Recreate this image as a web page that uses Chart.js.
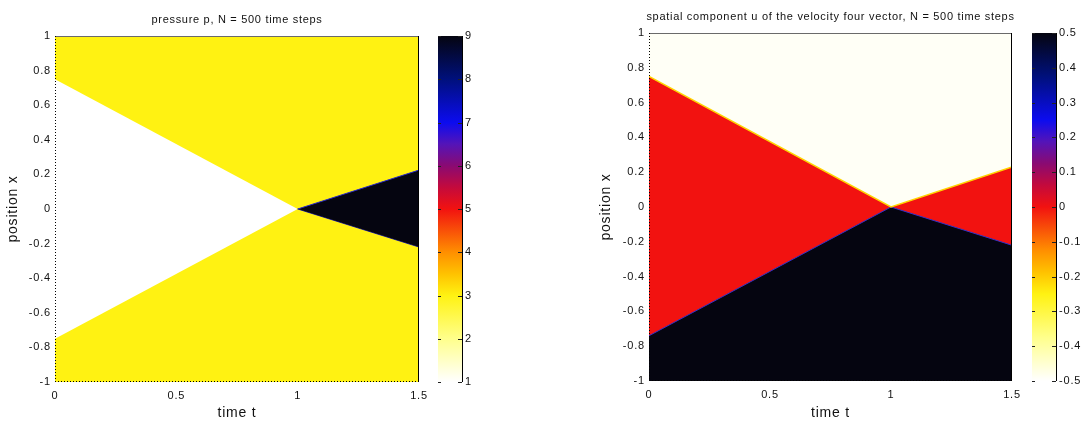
<!DOCTYPE html>
<html><head><meta charset="utf-8">
<script src="https://cdn.jsdelivr.net/npm/chart.js@4.4.1/dist/chart.umd.min.js"></script>
<style>
html,body{margin:0;padding:0;background:#fff;width:1083px;height:424px;overflow:hidden}
canvas{position:absolute;top:0}
</style></head><body>
<canvas id="pMap" width="430" height="424" style="left:0px"></canvas>
<canvas id="pBar" width="55" height="424" style="left:430px"></canvas>
<canvas id="uMap" width="440" height="424" style="left:590px"></canvas>
<canvas id="uBar" width="58" height="424" style="left:1025px"></canvas>
<script>
// ---------- tick labels ----------
const timeTicks = [0, 0.5, 1, 1.5];
const positionTicks = [-1, -0.8, -0.6, -0.4, -0.2, 0, 0.2, 0.4, 0.6, 0.8, 1];
const pressureTicks = [1, 2, 3, 4, 5, 6, 7, 8, 9];
const velocityTicks = [-0.5, -0.4, -0.3, -0.2, -0.1, 0, 0.1, 0.2, 0.3, 0.4, 0.5];

// ---------- domain ----------
const timeRange = [0, 1.5];
const positionRange = [-1, 1];

// ---------- pressure p : region values ----------
const pAmbient = 3;     // yellow outer state
const pRarefied = 1;    // white fan
const pShocked = 9;     // black shocked region
// region boundaries (time t, position x)
const fanTopT = [0, 1],     fanTopX = [0.75, 0];
const fanBottomT = [0, 1],  fanBottomX = [-0.75, 0];
const shockTopT = [1, 1.5], shockTopX = [0, 0.225];
const shockBottomT = [1, 1.5], shockBottomX = [0, -0.22];

// ---------- velocity u : region values ----------
const uUpper = -0.49;   // off-white region above upper front
const uMiddle = 0;      // red region
const uLower = 0.5;     // black region below lower front
const upperFrontT = [0, 1, 1.5], upperFrontX = [0.75, 0, 0.23];
const lowerFrontT = [0, 1, 1.5], lowerFrontX = [-0.74, 0, -0.22];

// ---------- colormap (normalised position -> colour) ----------
const cmapPos = [0, 0.125, 0.25, 0.3125, 0.375, 0.5, 0.5625, 0.625, 0.6875, 0.75, 0.875, 1];
const cmapCol = ['#ffffff', '#ffff8c', '#fff212', '#ffc200', '#ff8f00', '#f21210', '#c40a3c', '#8a0a72', '#5414b8', '#0c0cef', '#00107c', '#050510'];

const FONT = "'Liberation Sans', Arial, Helvetica, sans-serif";

function hexRgb(h){ return [1,3,5].map(i=>parseInt(h.substr(i,2),16)); }
function cmap(v, lo, hi){
  const s = Math.max(0, Math.min(1, (v-lo)/(hi-lo)));
  for (let i=0;i<cmapPos.length-1;i++){
    if (s <= cmapPos[i+1]) {
      const f = (s-cmapPos[i])/(cmapPos[i+1]-cmapPos[i]);
      const a = hexRgb(cmapCol[i]), b = hexRgb(cmapCol[i+1]);
      const c = a.map((x,k)=>Math.round(x+(b[k]-x)*f));
      return `rgb(${c[0]},${c[1]},${c[2]})`;
    }
  }
  return cmapCol[cmapCol.length-1];
}
function pts(ts, xs){ return ts.map((t,i)=>({x:t, y:xs[i]})); }
function fmt(v){ return (Math.round(v*10)/10).toString(); }
function noPad(s){ s.paddingLeft = 0; s.paddingRight = 0; s.paddingTop = 0; s.paddingBottom = 0; }

const spacing = {
  id:'spacing',
  beforeDraw(chart){ chart.ctx.letterSpacing = '0.8px'; }
};

const frame = {
  id:'frame',
  afterDatasetsDraw(chart){
    const {ctx, chartArea:{left,right,top,bottom}} = chart;
    ctx.save();
    ctx.lineWidth = 1;
    ctx.strokeStyle = '#6a6a6a';
    ctx.beginPath(); ctx.moveTo(left, top+0.5); ctx.lineTo(right, top+0.5); ctx.stroke();
    ctx.strokeStyle = '#000';
    ctx.beginPath(); ctx.moveTo(right-0.5, top); ctx.lineTo(right-0.5, bottom); ctx.stroke();
    ctx.setLineDash([1,2]);
    ctx.beginPath(); ctx.moveTo(left+0.5, top); ctx.lineTo(left+0.5, bottom); ctx.stroke();
    ctx.beginPath(); ctx.moveTo(left, bottom-0.5); ctx.lineTo(right, bottom-0.5); ctx.stroke();
    ctx.restore();
  }
};
const titlePlug = {
  id:'ttl',
  afterDraw(chart, args, opts){
    const {ctx, chartArea:{left,right}} = chart;
    ctx.save();
    ctx.font = '11px ' + FONT;
    ctx.letterSpacing = '0.7px';
    ctx.fillStyle = '#111';
    ctx.textAlign = 'center'; ctx.textBaseline = 'middle';
    ctx.fillText(opts.text, (left+right)/2, opts.y);
    ctx.restore();
  }
};

function fieldChart(id, g, datasets, title){
  return new Chart(document.getElementById(id), {
    type:'line',
    data:{datasets},
    plugins:[spacing, frame, titlePlug],
    options:{
      responsive:false, animation:false, events:[],
      layout:{padding:{top:g.top, right:g.padRight, left:0, bottom:0}},
      elements:{point:{radius:0}, line:{tension:0}},
      plugins:{legend:{display:false}, tooltip:{enabled:false}, ttl:{text:title, y:g.titleY}},
      scales:{
        x:{type:'linear', min:timeRange[0], max:timeRange[1],
           afterBuildTicks:s=>{ s.ticks = timeTicks.map(v=>({value:v})); },
           afterFit:s=>{ s.height = g.xH; noPad(s); },
           grid:{display:false, drawTicks:false, tickLength:0}, border:{display:false},
           ticks:{autoSkip:false, maxRotation:0, padding:7, color:'#111', font:{family:FONT, size:11}, callback:v=>fmt(v)},
           title:{display:true, text:'time t', color:'#111', font:{family:FONT, size:14}, padding:{top:0, bottom:2}}},
        y:{type:'linear', min:positionRange[0], max:positionRange[1],
           afterBuildTicks:s=>{ s.ticks = positionTicks.map(v=>({value:v})); },
           afterFit:s=>{ s.width = g.yW; noPad(s); },
           grid:{display:false, drawTicks:false, tickLength:0}, border:{display:false},
           ticks:{autoSkip:false, padding:4, color:'#111', font:{family:FONT, size:11}, callback:v=>fmt(v)},
           title:{display:true, text:'position x', color:'#111', font:{family:FONT, size:14}, padding:{top:g.yTitlePad, bottom:0}}}
      }
    }
  });
}

function colorBar(id, g, lo, hi, ticks){
  const cbTicks = {
    id:'cbTicks',
    afterDatasetsDraw(chart){
      const {ctx, chartArea:{left,right,top,bottom}} = chart;
      const ys = chart.scales.y;
      ctx.save();
      ctx.strokeStyle = '#222'; ctx.lineWidth = 1;
      ticks.forEach(v=>{
        const y = Math.round(ys.getPixelForValue(v)) + 0.5;
        ctx.beginPath(); ctx.moveTo(left, y); ctx.lineTo(left+3, y); ctx.stroke();
        ctx.beginPath(); ctx.moveTo(right-4, y); ctx.lineTo(right, y); ctx.stroke();
      });
      ctx.strokeStyle = '#000';
      ctx.beginPath(); ctx.moveTo(right+0.5, top); ctx.lineTo(right+0.5, bottom); ctx.stroke();
      ctx.restore();
    }
  };
  return new Chart(document.getElementById(id), {
    type:'bar',
    data:{labels:['colorbar'], datasets:[{
      data:[[lo, hi]],
      barPercentage:1, categoryPercentage:1, borderWidth:0, borderSkipped:false,
      backgroundColor:(c)=>{
        const ca = c.chart.chartArea;
        if (!ca) return '#fff';
        const grd = c.chart.ctx.createLinearGradient(0, ca.bottom, 0, ca.top);
        cmapPos.forEach((p,i)=>grd.addColorStop(p, cmapCol[i]));
        return grd;
      }
    }]},
    plugins:[spacing, cbTicks],
    options:{
      responsive:false, animation:false, events:[],
      layout:{padding:{top:g.top, bottom:g.bottom, left:g.padLeft, right:0}},
      plugins:{legend:{display:false}, tooltip:{enabled:false}},
      scales:{
        x:{display:false},
        y:{position:'right', min:lo, max:hi,
           afterBuildTicks:s=>{ s.ticks = ticks.map(v=>({value:v})); },
           afterFit:s=>{ s.width = g.yW; noPad(s); },
           grid:{display:false, drawTicks:false, tickLength:0}, border:{display:false},
           ticks:{autoSkip:false, padding:3, color:'#111', font:{family:FONT, size:11}, callback:v=>fmt(v)}}
      }
    }
  });
}

// ---------- pressure panel ----------
fieldChart('pMap', {top:36, padRight:11, xH:42, yW:55, yTitlePad:5, titleY:20}, [
  {data:pts(timeRange, [positionRange[1], positionRange[1]]), fill:'start', backgroundColor:cmap(pAmbient,1,9), borderWidth:0, order:10},
  {data:pts(fanTopT, fanTopX), fill:2, backgroundColor:cmap(pRarefied,1,9), borderWidth:0, order:5},
  {data:pts(fanBottomT, fanBottomX), fill:false, borderWidth:0, order:5},
  {data:pts(shockTopT, shockTopX), fill:4, backgroundColor:cmap(pShocked,1,9), borderColor:'#2828c8', borderWidth:1, order:1},
  {data:pts(shockBottomT, shockBottomX), fill:false, borderColor:'#2828c8', borderWidth:1, order:1}
], 'pressure p, N = 500 time steps');
colorBar('pBar', {top:36, bottom:42, padLeft:8, yW:23}, 1, 9, pressureTicks);

// ---------- velocity panel ----------
fieldChart('uMap', {top:33, padRight:18, xH:43, yW:59, yTitlePad:8, titleY:17}, [
  {data:pts(timeRange, [positionRange[1], positionRange[1]]), fill:'start', backgroundColor:cmap(uMiddle,-0.5,0.5), borderWidth:0, order:10},
  {data:pts(upperFrontT, upperFrontX), fill:'end', backgroundColor:cmap(uUpper,-0.5,0.5), borderColor:'#ffd400', borderWidth:1.5, order:1},
  {data:pts(lowerFrontT, lowerFrontX), fill:'start', backgroundColor:cmap(uLower,-0.5,0.5), borderColor:'#3232c8', borderWidth:1, order:1}
], 'spatial component u of the velocity four vector, N = 500 time steps');
colorBar('uBar', {top:33, bottom:43, padLeft:7, yW:27}, -0.5, 0.5, velocityTicks);
</script>
</body></html>
